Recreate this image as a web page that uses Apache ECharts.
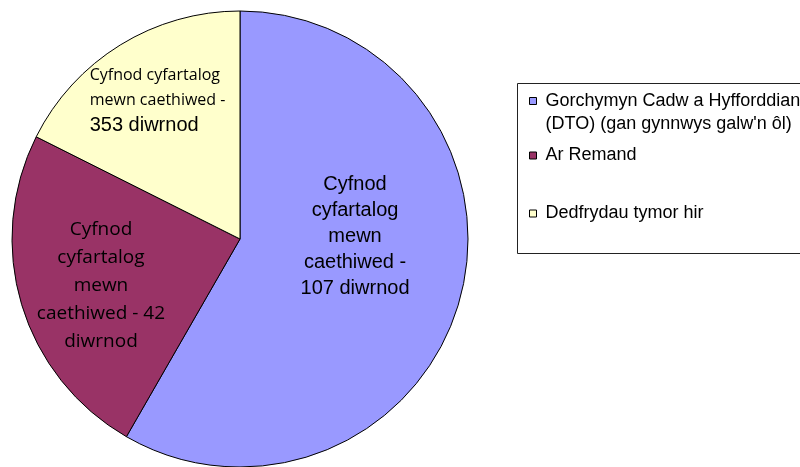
<!DOCTYPE html>
<html>
<head>
<meta charset="utf-8">
<script src="https://cdn.jsdelivr.net/npm/echarts@6/dist/echarts.min.js"></script>
<style>
html, body { margin: 0; padding: 0; background: #fff; }
#chart { width: 800px; height: 467px; }
</style>
</head>
<body>
<div id="chart"></div>
<script>
var chart = echarts.init(document.getElementById('chart'))

// categories (legend names) and slice shares
var categories = ['Gorchymyn Cadw a Hyfforddiant\n(DTO) (gan gynnwys galw\'n ôl)', 'Ar Remand', 'Dedfrydau tymor hir']
var shares = [58.3, 24.1, 17.6]
// average days in custody shown in each slice
var avgDays = [107, 42, 353]
var colors = ['#9999ff', '#993366', '#ffffcc']

// label shifts from the default "inside" spot
var labelShift = [[2, -33], [-27, 13], [-21, -39]]

var sliceLabels = [
	'Cyfnod\ncyfartalog\nmewn\ncaethiwed -\n' + avgDays[0] + ' diwrnod',
	'{c|Cyfnod}\n{c|cyfartalog}\n{c|mewn}\n{c|caethiwed - ' + avgDays[1] + '}\n{c|diwrnod}',
	'{s|Cyfnod cyfartalog}\n{s|mewn caethiwed -}\n{b|' + avgDays[2] + ' diwrnod}'
]

var pieData = categories.map(function(name, i) {
	return {
		name: name,
		value: shares[i],
		itemStyle: { color: colors[i] },
		label: { formatter: sliceLabels[i] }
	}
})

var legendRich = {
	e: { fontSize: 18, lineHeight: 23 },
	g: { width: 4, lineHeight: 23 },
	t: { fontFamily: 'Liberation Sans', fontSize: 18, lineHeight: 23, color: '#000' }
}

function legendFor(i, top) {
	return {
		data: [categories[i]],
		left: 529,
		top: top,
		padding: 0,
		orient: 'vertical',
		itemWidth: 7,
		itemHeight: 7,
		itemGap: 0,
		icon: 'rect',
		selectedMode: false,
		itemStyle: { borderColor: '#000', borderWidth: 1 },
		formatter: function(name) {
			var lines = name.split('\n').map(function(l) {
				return '{g| }{t|' + l + '}'
			})
			// empty first line keeps the marker level with the first text line
			if (lines.length > 1) lines.unshift('{e| }')
			return lines.join('\n')
		},
		textStyle: {
			fontFamily: 'Liberation Sans',
			fontSize: 18,
			color: '#000',
			rich: legendRich
		}
	}
}

var option = {
	backgroundColor: '#fff',
	animation: false,
	legend: [
		legendFor(0, 69),
		legendFor(1, 146.5),
		legendFor(2, 204.5)
	],
	graphic: [{
		type: 'rect',
		shape: { x: 517.5, y: 83.5, width: 300, height: 170 },
		style: { fill: 'none', stroke: '#222', lineWidth: 1 },
		silent: true
	}],
	series: [{
		name: 'Cyfnod cyfartalog',
		type: 'pie',
		center: [240, 239],
		radius: 228,
		startAngle: 90,
		clockwise: true,
		avoidLabelOverlap: false,
		itemStyle: { borderColor: '#000', borderWidth: 1 },
		label: {
			show: true,
			position: 'inside',
			fontFamily: 'Liberation Sans',
			fontSize: 20,
			lineHeight: 26,
			color: '#000',
			align: 'center',
			rich: {
				c: { fontFamily: 'Open Sans', fontSize: 19, lineHeight: 28, color: '#000' },
				s: { fontFamily: 'Open Sans', fontSize: 16, lineHeight: 25, color: '#000', align: 'left' },
				b: { fontFamily: 'Liberation Sans', fontSize: 20, lineHeight: 25, color: '#000', align: 'left' }
			}
		},
		labelLine: { show: false },
		emphasis: { disabled: true },
		labelLayout: function(params) {
			var s = labelShift[params.dataIndex]
			return { dx: s[0], dy: s[1] }
		},
		data: pieData
	}]
}

chart.setOption(option)
</script>
</body>
</html>
